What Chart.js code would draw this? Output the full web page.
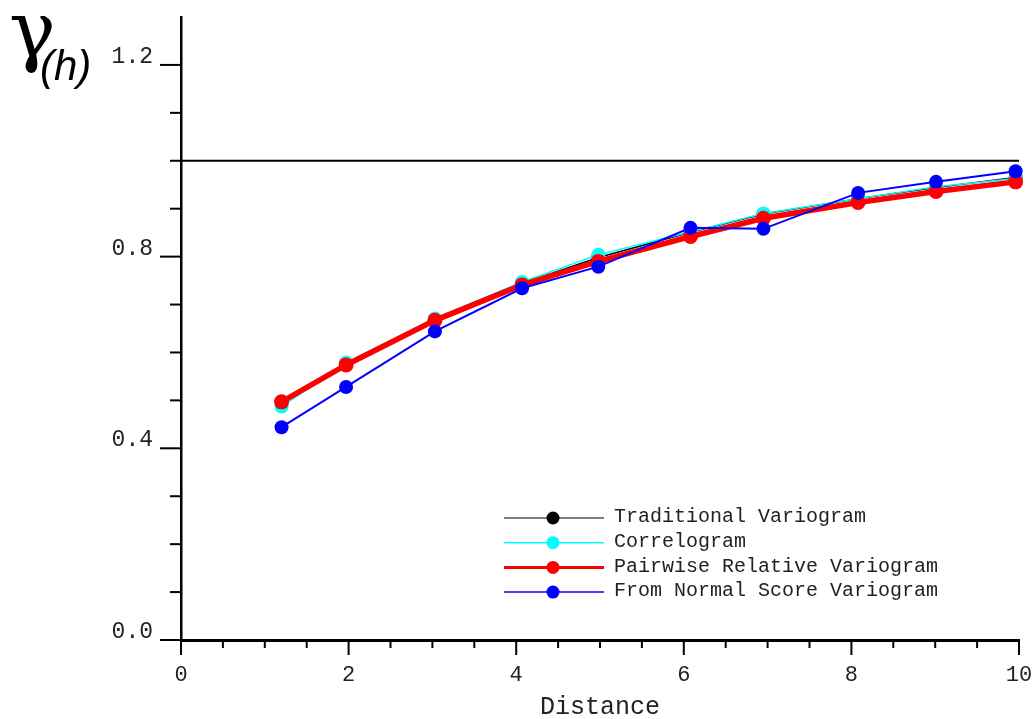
<!DOCTYPE html>
<html>
<head>
<meta charset="utf-8">
<script src="https://cdn.jsdelivr.net/npm/chart.js@4/dist/chart.umd.min.js"></script>
<style>
  html, body { margin: 0; padding: 0; background: #fff; }
  .chart-container { width: 1034px; height: 719px; position: relative; }
</style>
</head>
<body>
<div class="chart-container"><canvas id="variogramChart"></canvas></div>
<script>
const lags = [1.2, 1.97, 3.03, 4.07, 4.98, 6.08, 6.95, 8.08, 9.01, 9.96];
const traditional = [0.497, 0.576, 0.669, 0.744, 0.798, 0.851, 0.889, 0.921, 0.944, 0.965];
const correlogram = [0.487, 0.579, 0.671, 0.747, 0.804, 0.852, 0.890, 0.921, 0.946, 0.963];
const pairwise = [0.497, 0.574, 0.667, 0.741, 0.790, 0.842, 0.880, 0.913, 0.936, 0.956];
const normalScore = [0.444, 0.528, 0.644, 0.734, 0.779, 0.860, 0.858, 0.933, 0.956, 0.978];

// sill line
const sillX = [0, 10];
const sillY = [1.0, 1.0];

const seriesNames = [
  "Traditional Variogram",
  "Correlogram",
  "Pairwise Relative Variogram",
  "From Normal Score Variogram",
];
const xTickLabels = ["0", "2", "4", "6", "8", "10"];
const yTickLabels = ["0.0", "0.4", "0.8", "1.2"];

const toPoints = (xs, ys) => xs.map((x, i) => ({ x: x, y: ys[i] }));

const styles = [
  { color: "#000000", width: 1.5, legendWidth: 1.2, radius: 7, order: 4 },
  { color: "#00ffff", width: 1.5, legendWidth: 1.5, radius: 7, order: 3 },
  { color: "#ff0000", width: 5.5, legendWidth: 3, radius: 7.5, order: 2 },
  { color: "#0000ff", width: 2, legendWidth: 1.5, radius: 7, order: 1 },
];
const seriesValues = [traditional, correlogram, pairwise, normalScore];

const datasets = seriesValues.map((vals, i) => ({
  label: seriesNames[i],
  data: toPoints(lags, vals),
  borderColor: styles[i].color,
  backgroundColor: styles[i].color,
  pointBackgroundColor: styles[i].color,
  pointBorderWidth: 0,
  pointRadius: styles[i].radius,
  borderWidth: styles[i].width,
  order: styles[i].order,
  clip: false,
  tension: 0,
}));
datasets.push({
  label: "sill",
  data: toPoints(sillX, sillY),
  borderColor: "#000000",
  borderWidth: 2,
  pointRadius: 0,
  order: 5,
  clip: false,
});

const MONO = "'Liberation Mono', 'Courier New', monospace";

// tick marks: long at labelled values, short elsewhere
const tickMarks = {
  id: "tickMarks",
  afterDraw(chart) {
    const ctx = chart.ctx;
    const xs = chart.scales.x, ys = chart.scales.y;
    const area = chart.chartArea;
    ctx.save();
    ctx.strokeStyle = "#000";
    ctx.lineWidth = 2;
    ys.ticks.forEach((t) => {
      if (t.value > ys.max - 1e-9) return;
      const py = ys.getPixelForValue(t.value);
      const len = t.label ? 21 : 11;
      ctx.beginPath();
      ctx.moveTo(area.left, py);
      ctx.lineTo(area.left - len, py);
      ctx.stroke();
    });
    xs.ticks.forEach((t) => {
      const px = xs.getPixelForValue(t.value);
      const len = t.label ? 15 : 8;
      ctx.beginPath();
      ctx.moveTo(px, area.bottom);
      ctx.lineTo(px, area.bottom + len);
      ctx.stroke();
    });
    ctx.restore();
  },
};

// legend: line with marker in the middle, then label
const lineLegend = {
  id: "lineLegend",
  afterDraw(chart) {
    const ctx = chart.ctx;
    const area = chart.chartArea;
    const x0 = area.left + 323;
    const y0 = area.top + 501;
    ctx.save();
    ctx.font = "20px " + MONO;
    ctx.textBaseline = "middle";
    ctx.textAlign = "left";
    seriesNames.forEach((name, i) => {
      const y = y0 + i * 24.7;
      const s = styles[i];
      ctx.strokeStyle = s.color;
      ctx.lineWidth = s.legendWidth;
      ctx.beginPath();
      ctx.moveTo(x0, y);
      ctx.lineTo(x0 + 100, y);
      ctx.stroke();
      ctx.fillStyle = s.color;
      ctx.beginPath();
      ctx.arc(x0 + 49, y, 6.5, 0, Math.PI * 2);
      ctx.fill();
      ctx.fillStyle = "#222";
      ctx.fillText(name, x0 + 110, y - 1);
    });
    ctx.restore();
  },
};

// gamma(h) label in the top-left corner
const gammaLabel = {
  id: "gammaLabel",
  afterDraw(chart) {
    const ctx = chart.ctx;
    ctx.save();
    ctx.fillStyle = "#000";
    ctx.textBaseline = "alphabetic";
    ctx.textAlign = "left";
    ctx.font = "78px 'DejaVu Serif', serif";
    ctx.fillText("\u03B3", 9, 57);
    ctx.font = "italic 42px 'Liberation Sans', Arial, sans-serif";
    ctx.fillText("(h)", 40, 80);
    ctx.restore();
  },
};

new Chart(document.getElementById("variogramChart"), {
  type: "line",
  data: { datasets },
  options: {
    responsive: true,
    maintainAspectRatio: false,
    animation: false,
    events: [],
    layout: { padding: { top: 17, right: 15, bottom: 0, left: 0 } },
    scales: {
      x: {
        type: "linear",
        min: 0,
        max: 10,
        grid: { drawOnChartArea: false, drawTicks: false },
        border: { display: true, color: "#000", width: 3 },
        ticks: {
          stepSize: 0.5,
          autoSkip: false,
          maxRotation: 0,
          padding: 22,
          color: "#222",
          font: { family: MONO, size: 22 },
          callback: (v) => (xTickLabels.includes(String(v)) ? String(v) : ""),
        },
        title: {
          display: true,
          text: "Distance",
          color: "#222",
          font: { family: MONO, size: 25 },
          padding: { top: 0, bottom: -3 },
        },
        afterFit: (scale) => {
          scale.height = 79;
          scale.paddingLeft = 0;
          scale.paddingRight = 0;
        },
      },
      y: {
        type: "linear",
        min: 0,
        max: 1.3,
        grid: { drawOnChartArea: false, drawTicks: false },
        border: { display: true, color: "#000", width: 2.5 },
        ticks: {
          stepSize: 0.1,
          autoSkip: false,
          padding: 28,
          labelOffset: -8,
          color: "#222",
          font: { family: MONO, size: 23 },
          callback: (v) => {
            const s = (Math.round(v * 10) / 10).toFixed(1);
            return yTickLabels.includes(s) ? s : "";
          },
        },
        afterFit: (scale) => {
          scale.width = 181;
          scale.paddingTop = 0;
          scale.paddingBottom = 0;
        },
      },
    },
    plugins: {
      legend: { display: false },
      tooltip: { enabled: false },
    },
  },
  plugins: [tickMarks, lineLegend, gammaLabel],
});
</script>
</body>
</html>
